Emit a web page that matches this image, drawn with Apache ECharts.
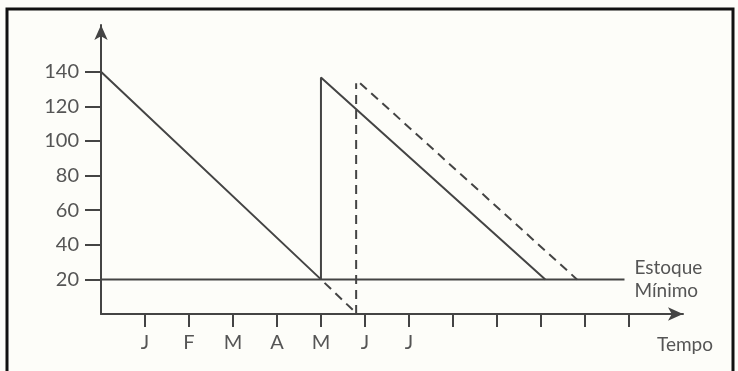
<!DOCTYPE html>
<html>
<head>
<meta charset="utf-8">
<script src="https://cdn.jsdelivr.net/npm/echarts@6/dist/echarts.min.js"></script>
<style>
  html, body { margin: 0; padding: 0; background: #fdfdf9; }
  #chart { width: 738px; height: 371px; }
</style>
</head>
<body>
<div id="chart"></div>
<script>
// month letters under the first ticks, the rest are blank
const months = ['J', 'F', 'M', 'A', 'M', 'J', 'J'];
const monthTicks = [1, 2, 3, 4, 5, 6, 7, 8, 9, 10, 11, 12];
const yTicks = [20, 40, 60, 80, 100, 120, 140];

// stock level over time (saw tooth)
const stockLevel = [[0, 140], [5, 20], [5, 136.7], [10.1, 20]];
const minStock = [[0, 20], [11.9, 20]];
// delayed delivery (dashed)
const delayDrop = [[5, 20], [5.78, 1]];
const delayArrival = [[5.8, 0], [5.8, 133.3]];
const delayedStock = [[5.89, 133.4], [10.82, 20]];

const INK = '#444';
const TEXT = '#555';
const FONT = 'Lato';

const chart = echarts.init(document.getElementById('chart'));

function solid(data, extra) {
    return Object.assign({
        type: 'line',
        data: data,
        symbol: 'none',
        silent: true,
        lineStyle: {color: INK, width: 2}
    }, extra || {});
}

function dashed(data, offset) {
    return solid(data, {
        lineStyle: {color: INK, width: 2, type: [9, 6], dashOffset: offset || 0}
    });
}

chart.setOption({
    animation: false,
    backgroundColor: '#fdfdf9',
    grid: {left: 101, right: 55, top: 25, bottom: 57},
    xAxis: {
        type: 'value',
        min: 0,
        max: 13.23,
        name: 'Tempo',
        nameLocation: 'end',
        nameGap: 2,
        nameTextStyle: {
            color: TEXT, fontFamily: FONT, fontSize: 19,
            align: 'center', verticalAlign: 'top', padding: [21, 0, 0, 0]
        },
        splitLine: {show: false},
        axisLine: {
            show: true,
            lineStyle: {color: INK, width: 2},
            symbol: ['none', 'arrow'],
            symbolSize: [10, 15]
        },
        axisTick: {
            show: true,
            length: 13,
            lineStyle: {color: INK, width: 2},
            customValues: monthTicks
        },
        axisLabel: {
            color: TEXT,
            fontFamily: FONT,
            fontSize: 20,
            margin: 19,
            customValues: monthTicks.slice(0, months.length),
            formatter: v => months[Math.round(v) - 1] || ''
        }
    },
    yAxis: {
        type: 'value',
        min: 0,
        max: 167,
        splitLine: {show: false},
        axisLine: {
            show: true,
            lineStyle: {color: INK, width: 2},
            symbol: ['none', 'arrow'],
            symbolSize: [10, 15]
        },
        axisTick: {
            show: true,
            length: 16,
            lineStyle: {color: INK, width: 2},
            customValues: yTicks
        },
        axisLabel: {
            color: TEXT,
            fontFamily: FONT,
            fontSize: 20,
            margin: 22,
            customValues: yTicks
        }
    },
    series: [
        solid(stockLevel),
        solid(minStock, {
            endLabel: {
                show: true,
                formatter: 'Estoque\nMínimo',
                color: TEXT,
                fontFamily: FONT,
                fontSize: 19,
                lineHeight: 23,
                distance: 10
            }
        }),
        dashed(delayDrop, 10),
        dashed(delayArrival),
        dashed(delayedStock)
    ],
    graphic: [{
        type: 'polyline',
        silent: true,
        shape: {points: [[7, 371], [7, 9], [733, 9], [733, 371]]},
        style: {stroke: '#111', lineWidth: 3, fill: null}
    }]
});
</script>
</body>
</html>
